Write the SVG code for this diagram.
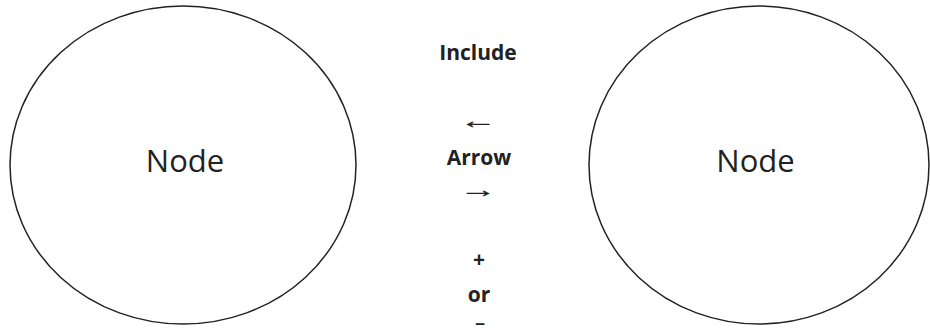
<svg xmlns="http://www.w3.org/2000/svg" width="930" height="333" viewBox="0 0 930 333">
<style>
.node{fill:#fff;stroke:#222;stroke-width:1.5}
.nl{font-family:"Open Sans","Noto Sans",sans-serif;font-size:31px;fill:#222;text-anchor:middle}
.lb{font-family:"Open Sans","Noto Sans",sans-serif;font-size:21px;font-weight:bold;fill:#222;text-anchor:middle}
.ar{font-family:"Liberation Sans","DejaVu Sans",sans-serif;font-size:22px;fill:#222;stroke:#222;stroke-width:0.3;text-anchor:middle}
</style>
<rect width="930" height="333" fill="#fff"/>
<g id="node-left">
<ellipse class="node" cx="183" cy="165" rx="173" ry="159"/>
<text class="nl" x="185" y="172">Node</text>
</g>
<g id="node-right">
<ellipse class="node" cx="759" cy="165" rx="170" ry="159"/>
<text class="nl" x="755.5" y="172">Node</text>
</g>
<g id="connectors">
<text class="lb" x="478" y="60">Include</text>
<text class="ar" transform="translate(478.5,128) scale(1.7,1)">←</text>
<text class="lb" x="479" y="165">Arrow</text>
<text class="ar" transform="translate(478.5,197) scale(1.7,1)">→</text>
<text class="lb" x="479" y="267">+</text>
<text class="lb" x="479" y="302">or</text>
<text class="lb" style="font-size:15px" transform="translate(480,328) scale(2.2,1)">-</text>
</g>
</svg>
